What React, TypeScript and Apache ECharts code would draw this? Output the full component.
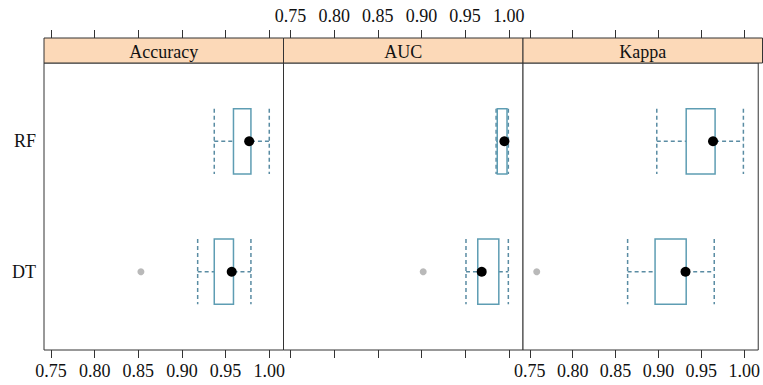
import React, { useEffect, useRef } from "react";
import * as echarts from "echarts";

const metrics = ["Accuracy", "AUC", "Kappa"];
const models = ["DT", "RF"];
const tickValues = [0.75, 0.8, 0.85, 0.9, 0.95, 1.0];

// [lower whisker, Q1, median, Q3, upper whisker]
const accuracyDT = [0.918, 0.937, 0.957, 0.959, 0.979];
const accuracyRF = [0.937, 0.959, 0.977, 0.979, 1.0];
const aucDT = [0.951, 0.9645, 0.969, 0.9886, 0.9995];
const aucRF = [0.9855, 0.9868, 0.995, 0.998, 0.9995];
const kappaDT = [0.864, 0.896, 0.9315, 0.9323, 0.965];
const kappaRF = [0.898, 0.9323, 0.9636, 0.966, 0.999];
// outliers of DT per metric (Accuracy, AUC, Kappa)
const outliersDT = [0.853, 0.902, 0.758];

const summaries = [
  [accuracyDT, accuracyRF],
  [aucDT, aucRF],
  [kappaDT, kappaRF],
];

const FONT = "Liberation Serif";
const FS = 18;
const BOX = "#5e9db3";
const WHISK = "#5a8ca3";

export default function App() {
  const ref = useRef<HTMLDivElement>(null);
  useEffect(() => {
    const chart = echarts.init(ref.current!, null, { renderer: "svg" });
    const panelLeft = 44;
    const panelW = 239.5;
    const gridTop = 63;
    const gridH = 287;
    const stripH = 25;
    const xMin = 0.742;
    const xMax = 1.0163;

    const grids: any[] = [];
    const xAxes: any[] = [];
    const yAxes: any[] = [];
    const series: any[] = [];
    const graphics: any[] = [];

    metrics.forEach((m, i) => {
      const left = panelLeft + i * panelW;
      grids.push({
        left,
        top: gridTop,
        width: panelW,
        height: gridH,
        show: true,
        borderColor: "#333",
        borderWidth: 1,
        backgroundColor: "#fff",
      });
      const labelsBottom = i !== 1;
      const mk = (pos: string, withLabels: boolean) => ({
        type: "value",
        gridIndex: i,
        position: pos,
        offset: pos === "top" ? stripH : 0,
        min: xMin,
        max: xMax,
        axisLine: { show: false },
        splitLine: { show: false },
        axisTick: {
          show: true,
          length: 8,
          customValues: tickValues,
          lineStyle: { color: "#333", width: 1 },
        },
        axisLabel: {
          show: withLabels,
          customValues: tickValues,
          formatter: (v: number) => v.toFixed(2),
          fontFamily: FONT,
          fontSize: FS,
          color: "#111",
          margin: pos === "top" ? 13 : 12,
        },
      });
      xAxes.push(mk("bottom", labelsBottom));
      xAxes.push(mk("top", !labelsBottom));
      yAxes.push({
        type: "value",
        gridIndex: i,
        min: 0.4,
        max: 2.6,
        interval: 0.2,
        axisLine: { show: false },
        axisTick: { show: false },
        splitLine: { show: false },
        axisLabel: {
          show: i === 0,
          fontFamily: FONT,
          fontSize: FS,
          color: "#111",
          margin: 8,
          formatter: (v: number) => {
            for (let k = 0; k < models.length; k++) {
              if (Math.abs(v - (k + 1)) < 1e-6) return models[k];
            }
            return "";
          },
        },
      });
      const data = summaries[i].map((s, k) => [k + 1, ...s]);
      series.push({
        type: "custom",
        xAxisIndex: i * 2,
        yAxisIndex: i,
        data,
        encode: { x: [1, 2, 3, 4, 5], y: 0 },
        renderItem: (params: any, api: any) => {
          const y = api.value(0);
          const lo = api.value(1);
          const q1 = api.value(2);
          const med = api.value(3);
          const q3 = api.value(4);
          const hi = api.value(5);
          const half = 0.25;
          const yc = api.coord([lo, y])[1];
          const yt = api.coord([lo, y + half])[1];
          const yb = api.coord([lo, y - half])[1];
          const xlo = api.coord([lo, y])[0];
          const xq1 = api.coord([q1, y])[0];
          const xmed = api.coord([med, y])[0];
          const xq3 = api.coord([q3, y])[0];
          const xhi = api.coord([hi, y])[0];
          const dash = { stroke: WHISK, lineWidth: 1.5, lineDash: [4, 3] };
          return {
            type: "group",
            children: [
              { type: "line", shape: { x1: xlo, y1: yc, x2: xq1, y2: yc }, style: dash },
              { type: "line", shape: { x1: xq3, y1: yc, x2: xhi, y2: yc }, style: dash },
              { type: "line", shape: { x1: xlo, y1: yt, x2: xlo, y2: yb }, style: dash },
              { type: "line", shape: { x1: xhi, y1: yt, x2: xhi, y2: yb }, style: dash },
              {
                type: "rect",
                shape: { x: xq1, y: yt, width: xq3 - xq1, height: yb - yt },
                style: { fill: "none", stroke: BOX, lineWidth: 1.5 },
              },
              { type: "circle", shape: { cx: xmed, cy: yc, r: 5 }, style: { fill: "#000" } },
            ],
          };
        },
      });
      series.push({
        type: "scatter",
        xAxisIndex: i * 2,
        yAxisIndex: i,
        symbol: "circle",
        symbolSize: 7,
        itemStyle: { color: "#a8a8a8" },
        data: [[outliersDT[i], 1]],
      });
      graphics.push({
        type: "rect",
        shape: { x: left, y: gridTop - stripH, width: panelW, height: stripH },
        style: { fill: "#fcd9b8", stroke: "#333", lineWidth: 1 },
      });
      graphics.push({
        type: "text",
        x: left + panelW / 2,
        y: gridTop - stripH / 2 + 1.5,
        style: {
          text: m,
          fontFamily: FONT,
          fontSize: FS,
          fill: "#111",
          align: "center",
          verticalAlign: "middle",
        },
      });
    });

    chart.setOption({
      animation: false,
      backgroundColor: "#fff",
      grid: grids,
      xAxis: xAxes,
      yAxis: yAxes,
      series,
      graphic: graphics,
    });
    return () => chart.dispose();
  }, []);
  return (
    <div
      ref={ref}
      style={{ position: "fixed", left: 0, top: 0, width: 763, height: 385 }}
    />
  );
}
